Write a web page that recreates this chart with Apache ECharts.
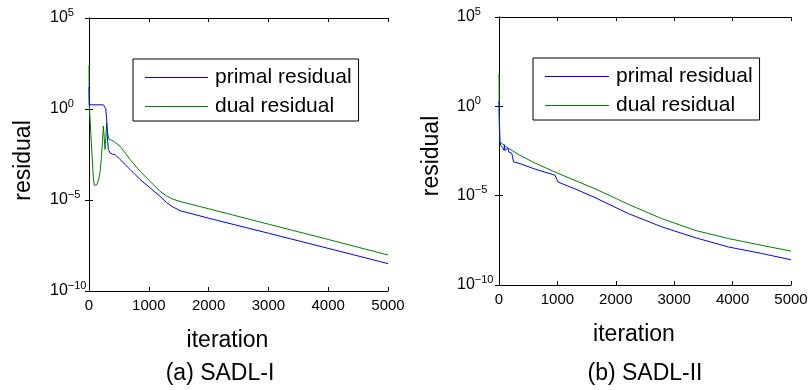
<!DOCTYPE html>
<html>
<head>
<meta charset="utf-8">
<script src="https://cdn.jsdelivr.net/npm/echarts@6/dist/echarts.min.js"></script>
<style>
html,body{margin:0;padding:0;background:#fff;}
#chart{width:812px;height:390px;}
</style>
</head>
<body>
<div id="chart"></div>
<script>
// ---------- data ----------
const xTicks = [0, 1000, 2000, 3000, 4000, 5000];
const yTickExponents = [-10, -5, 0, 5];
const seriesNames = ['primal residual', 'dual residual'];
const panelTitles = ['(a) SADL-I', '(b) SADL-II'];

// (a) SADL-I
const iterA_primal = [0, 5, 240, 280, 296, 306, 323, 351, 380, 400, 435, 518, 686, 853, 1020, 1187, 1300, 1400, 1522, 2000, 3000, 4000, 5000];
const resA_primal  = [16, 1.7, 1.7, 1.05, 0.26, 0.032, 6.0e-3, 3.9e-3, 4.5e-3, 3.2e-3, 3.2e-3, 1.7e-3, 4.8e-4, 1.35e-4, 4.7e-5, 1.6e-5, 7.1e-6, 4.2e-6, 2.6e-6, 1.0e-6, 1.5e-7, 2.2e-8, 3.2e-9];
const iterA_dual = [0, 3, 10, 45, 75, 90, 128, 160, 184, 210, 240, 255, 268, 282, 296, 310, 334, 400, 518, 686, 853, 1020, 1187, 1300, 1400, 1522, 2000, 3000, 4000, 5000];
const resA_dual  = [250, 2.0, 0.8, 5.6e-3, 1.26e-4, 6.6e-5, 6.6e-5, 1.26e-4, 3.2e-4, 2.5e-3, 0.115, 0.025, 6.0e-3, 0.032, 0.17, 0.05, 0.022, 0.018, 9.1e-3, 1.7e-3, 3.8e-4, 1.07e-4, 3.0e-5, 1.66e-5, 1.12e-5, 8.3e-6, 3.3e-6, 4.7e-7, 6.8e-8, 9.5e-9];

// (b) SADL-II
const iterB_primal = [0, 5, 15, 29, 60, 86, 92, 100, 131, 150, 171, 217, 250, 360, 600, 959, 980, 1010, 1300, 1644, 2214, 2786, 3356, 3927, 4498, 5000];
const resB_primal  = [2.0, 0.1, 0.01, 6.6e-3, 5.0e-3, 3.5e-3, 7.1e-3, 3.5e-3, 2.75e-3, 4.5e-3, 2.75e-3, 2.4e-3, 7.9e-4, 6.2e-4, 3.2e-4, 1.4e-4, 1.26e-4, 5.8e-5, 2.4e-5, 7.8e-6, 1.0e-6, 1.8e-7, 4.5e-8, 1.35e-8, 5.8e-9, 2.6e-9];
const iterB_dual = [0, 3, 15, 60, 131, 360, 600, 959, 1300, 1644, 2214, 2786, 3356, 3927, 4498, 5000];
const resB_dual  = [68, 1.0, 0.01, 7.9e-3, 5.2e-3, 1.8e-3, 7.1e-4, 2.1e-4, 7.1e-5, 2.45e-5, 3.3e-6, 5.2e-7, 1.15e-7, 4.0e-8, 1.66e-8, 7.9e-9];

// ---------- chart ----------
const FONT = '"Liberation Sans", Arial, Helvetica, sans-serif';
const BLUE = '#0000ff', GREEN = '#008000';
const pair = (xs, ys) => xs.map((x, i) => [x, ys[i]]);

const yMin = Math.pow(10, yTickExponents[0]);
const yMax = Math.pow(10, yTickExponents[yTickExponents.length - 1]);
const yStep = yTickExponents[1] - yTickExponents[0];

function supLabel(v) {
  const e = Math.round(Math.log10(v));
  return '{b|10}{s|' + (e < 0 ? '\u2212' + (-e) : e) + '}';
}
const richLabel = {
  b: {fontSize: 16, fontFamily: FONT, color: '#000', lineHeight: 16, verticalAlign: 'bottom'},
  s: {fontSize: 11, fontFamily: FONT, color: '#000', lineHeight: 11, verticalAlign: 'bottom', padding: [0, 0, 8, 0]}
};

const grids = [
  {left: 89, top: 18, width: 299, height: 273},
  {left: 499, top: 17, width: 292, height: 268}
];
const yLabelMargin = [39, 42];
const yNameGap = [54, 56];
const yNameShift = [12, 10];

const axisLine = {show: true, lineStyle: {color: '#000', width: 1}};
const tick = {show: true, inside: true, length: 4, lineStyle: {color: '#000'}};
const xAxes = [], yAxes = [];
grids.forEach((g, gi) => {
  xAxes.push({
    type: 'value', gridIndex: gi, position: 'bottom', min: xTicks[0], max: xTicks[xTicks.length - 1], interval: xTicks[1] - xTicks[0],
    axisLine: axisLine, axisTick: tick, splitLine: {show: false},
    axisLabel: {show: true, margin: 7, fontSize: 15, fontFamily: FONT, color: '#000', formatter: v => String(v)},
    name: 'iteration', nameLocation: 'middle', nameGap: 38,
    nameTextStyle: {fontSize: 23, fontFamily: FONT, color: '#000', padding: [0, 22, 0, 0]}
  });
  xAxes.push({
    type: 'value', gridIndex: gi, position: 'top', min: xTicks[0], max: xTicks[xTicks.length - 1], interval: xTicks[1] - xTicks[0],
    axisLine: axisLine, axisTick: tick, splitLine: {show: false}, axisLabel: {show: false}
  });
  yAxes.push({
    type: 'log', logBase: 10, gridIndex: gi, position: 'left', min: yMin, max: yMax, interval: yStep,
    axisLine: axisLine, axisTick: tick, minorTick: {show: false}, splitLine: {show: false},
    axisLabel: {show: true, align: 'left', margin: yLabelMargin[gi], formatter: supLabel, rich: richLabel},
    name: 'residual', nameLocation: 'middle', nameGap: yNameGap[gi],
    nameTextStyle: {fontSize: 23, fontFamily: FONT, color: '#000', padding: [0, yNameShift[gi], 0, 0]}
  });
  yAxes.push({
    type: 'log', logBase: 10, gridIndex: gi, position: 'right', min: yMin, max: yMax, interval: yStep,
    axisLine: axisLine, axisTick: tick, splitLine: {show: false}, axisLabel: {show: false}
  });
});

const lineSeries = (name, color, xi, yi, data) => ({
  type: 'line', name: name, xAxisIndex: xi, yAxisIndex: yi, data: data,
  symbol: 'none', showSymbol: false, silent: true,
  lineStyle: {color: color, width: 1}, itemStyle: {color: color}
});

const series = [
  lineSeries(seriesNames[1], GREEN, 0, 0, pair(iterA_dual, resA_dual)),
  lineSeries(seriesNames[0], BLUE, 0, 0, pair(iterA_primal, resA_primal)),
  lineSeries(seriesNames[1], GREEN, 2, 2, pair(iterB_dual, resB_dual)),
  lineSeries(seriesNames[0], BLUE, 2, 2, pair(iterB_primal, resB_primal))
];

const legendBase = {
  orient: 'vertical', icon: 'rect', itemHeight: 1, itemGap: 6,
  borderColor: '#000', borderWidth: 1, backgroundColor: '#fff',
  textStyle: {fontSize: 21, lineHeight: 23, fontFamily: FONT, color: '#000', padding: [0, 0, 0, 2]},
  data: seriesNames, selectedMode: false
};

const option = {
  animation: false,
  backgroundColor: '#fff',
  title: [
    {text: panelTitles[0], left: 220, top: 362, textAlign: 'center', padding: 0,
     textStyle: {fontSize: 23, fontWeight: 'normal', fontFamily: FONT, color: '#000'}},
    {text: panelTitles[1], left: 645, top: 362, textAlign: 'center', padding: 0,
     textStyle: {fontSize: 23, fontWeight: 'normal', fontFamily: FONT, color: '#000'}}
  ],
  legend: [
    Object.assign({}, legendBase, {left: 133, top: 59, padding: [7, 7, 3, 12], itemWidth: 63}),
    Object.assign({}, legendBase, {left: 533, top: 58, padding: [7, 7, 3, 12], itemWidth: 64})
  ],
  grid: grids,
  xAxis: xAxes,
  yAxis: yAxes,
  series: series
};

const chart = echarts.init(document.getElementById('chart'), null, {renderer: 'canvas'});
chart.setOption(option);
</script>
</body>
</html>
